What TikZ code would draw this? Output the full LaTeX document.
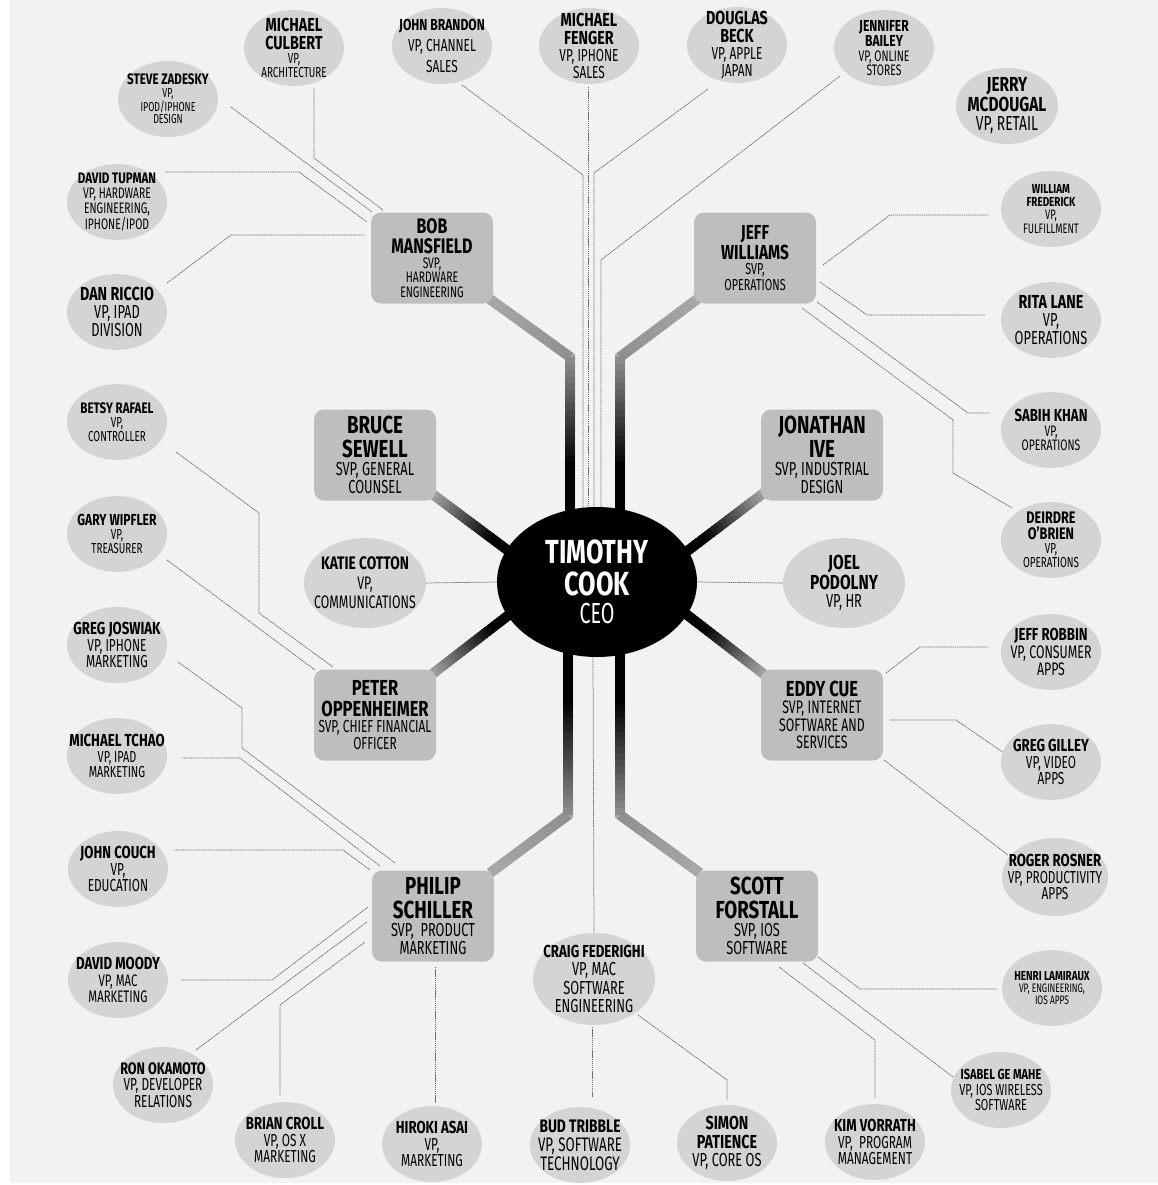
\documentclass[tikz,border=0pt]{standalone}
\usepackage{fontspec}
\setmainfont{Fira Sans}
\newfontfamily\bname{Fira Sans}[FakeStretch=0.76]
\newfontfamily\tname{Fira Sans}[FakeStretch=0.68]
\usetikzlibrary{shapes.geometric,calc}
\definecolor{bgc}{HTML}{F2F2F2}
\definecolor{ellc}{HTML}{D4D4D4}
\definecolor{boxc}{HTML}{BEBEBE}
\definecolor{thkc}{HTML}{A8A8A8}
\definecolor{linec}{HTML}{6E6E6E}
\newcommand\nf[1]{\bname\bfseries\fontsize{\fpeval{#1*1.45}}{\fpeval{#1*1.4}}\selectfont}
\newcommand\tf[1]{\tname\mdseries\fontsize{\fpeval{#1*1.45}}{\fpeval{#1*1.4}}\selectfont}
\newcommand\vtext[1]{\vbox{\hsize=230pt\parindent=0pt\leftskip=0pt plus 1fil\rightskip=0pt plus 1fil\parfillskip=0pt\relax\renewcommand\\[1][0pt]{\par\vskip##1\relax}#1\par}}
\pgfdeclarelayer{bg}\pgfdeclarelayer{lines}\pgfsetlayers{bg,lines,main}
\newcommand\vp[4][]{\node[vpstyle,#1] (#2) at (#3) {}; \node[txt] (#2-t) at (#2) {\vtext{#4}};}
\newcommand\bx[4][]{\node[boxstyle,#1] (#2) at (#3) {}; \node[txt] (#2-t) at (#2) {\vtext{#4}};}
\newcommand\tgrad[4]{%
  \foreach \k in {1,...,24}{%
    \pgfmathsetmacro\pa{(\k-1)/24}%
    \pgfmathsetmacro\pb{min(1,(\k+0.4)/24)}%
    \pgfmathtruncatemacro\cc{min(100,max(0,#3+(#4-#3)*(\k-0.5)/24))}%
    \draw[thk, draw=black!\cc!thkc] ($(#1)!\pa!(#2)$) -- ($(#1)!\pb!(#2)$);%
  }}
\begin{document}
\begin{tikzpicture}[x=1pt,y=-1pt,
  vpstyle/.style={ellipse, fill=ellc, minimum width=100pt, minimum height=76pt, inner sep=0pt},
  boxstyle/.style={rectangle, rounded corners=10pt, fill=boxc, minimum width=122pt, minimum height=91pt, inner sep=0pt},
  txt/.style={inner sep=0pt, text=black},
  vline/.style={draw=linec, line width=0.75pt, dash pattern=on 1.4pt off 0.7pt},
  thk/.style={line width=10pt}]
\useasboundingbox (0,0) rectangle (1158,1185);
\begin{pgfonlayer}{bg}
\fill[white] (0,0) rectangle (1158,1185);
\fill[bgc] (10,0) rectangle (1158,1183);
\end{pgfonlayer}

% CEO
\node[ellipse, fill=black, minimum width=200pt, minimum height=150pt, inner sep=0pt] (ceo) at (597,582) {};
\node[txt, text=white] (ceo-t) at (ceo) {\vtext{\nf{23}TIMOTHY\\COOK\\\tf{20}CEO}};

% SVP boxes
\bx{bob}{432,258}{\nf{14.5}BOB\\MANSFIELD\\\tf{10.5}SVP,\\HARDWARE\\ENGINEERING}
\bx{jeff}{755,258}{\nf{14}JEFF\\WILLIAMS\\\tf{11}SVP,\\OPERATIONS}
\bx{bruce}{375,455}{\nf{17}BRUCE\\SEWELL\\\tf{13}SVP, GENERAL\\COUNSEL}
\bx{ive}{822,455}{\nf{17}JONATHAN\\IVE\\\tf{13}SVP, INDUSTRIAL\\DESIGN}
\bx{peter}{375,715}{\nf{15}PETER\\OPPENHEIMER\\\tf{12}SVP, CHIEF FINANCIAL\\OFFICER}
\bx{eddy}{822,715}{\nf{15}EDDY CUE\\\tf{12.5}SVP, INTERNET\\SOFTWARE AND\\SERVICES}
\bx{philip}{433,916}{\nf{17}PHILIP\\SCHILLER\\\tf{13}SVP,~ PRODUCT\\MARKETING}
\bx{scott}{757,916}{\nf{17}SCOTT\\FORSTALL\\\tf{13}SVP, IOS\\SOFTWARE}

% VP ellipses
\vp{culbert}{294,48}{\nf{13}MICHAEL\\CULBERT\\\tf{10}VP,\\ARCHITECTURE}
\vp{brandon}{442,46}{\nf{11}JOHN BRANDON\\[4pt]\tf{12}VP, CHANNEL\\[4pt]SALES}
\vp{fenger}{589,46}{\nf{13}MICHAEL\\FENGER\\\tf{12}VP, IPHONE\\SALES}
\vp{beck}{737,45}{\nf{13}DOUGLAS\\BECK\\\tf{12}VP, APPLE\\JAPAN}
\vp{bailey}{884,48}{\nf{11}JENNIFER\\BAILEY\\\tf{10.5}VP, ONLINE\\STORES}
\vp[minimum width=102pt]{mcdougal}{1007,106}{\nf{14}JERRY\\MCDOUGAL\\\tf{14}VP, RETAIL}
\vp{zadesky}{168,99}{\nf{10.5}STEVE ZADESKY\\\tf{9}VP,\\IPOD/IPHONE\\DESIGN}
\vp{tupman}{117,202}{\nf{10.5}DAVID TUPMAN\\\tf{10.5}VP, HARDWARE\\ENGINEERING,\\IPHONE/IPOD}
\vp{riccio}{117,312}{\nf{13}DAN RICCIO\\\tf{13}VP, IPAD\\DIVISION}
\vp{frederick}{1051,209}{\nf{9}WILLIAM\\FREDERICK\\\tf{9.5}VP,\\FULFILLMENT}
\vp{rita}{1051,320}{\nf{13}RITA LANE\\\tf{13}VP,\\OPERATIONS}
\vp{betsy}{117,422}{\nf{10.5}BETSY RAFAEL\\\tf{10}VP,\\CONTROLLER}
\vp{gary}{117,534}{\nf{11}GARY WIPFLER\\\tf{10}VP,\\TREASURER}
\vp{joswiak}{117,645}{\nf{12}GREG JOSWIAK\\\tf{12}VP, IPHONE\\MARKETING}
\vp{tchao}{117,756}{\nf{12}MICHAEL TCHAO\\\tf{11}VP, IPAD\\MARKETING}
\vp[minimum width=122pt, minimum height=90pt]{katie}{365,583}{\nf{12.5}KATIE COTTON\\[2pt]\tf{12.5}VP,\\[2pt]COMMUNICATIONS}
\vp[minimum width=122pt, minimum height=90pt]{joel}{844,583}{\nf{14}JOEL\\PODOLNY\\\tf{13}VP, HR}
\vp{sabih}{1051,430}{\nf{12}SABIH KHAN\\\tf{10.5}VP,\\OPERATIONS}
\vp{deirdre}{1051,540}{\nf{11.5}DEIRDRE\\O’BRIEN\\\tf{10}VP,\\OPERATIONS}
\vp{robbin}{1051,652}{\nf{12}JEFF ROBBIN\\\tf{12.5}VP, CONSUMER\\APPS}
\vp{gilley}{1051,762}{\nf{12}GREG GILLEY\\\tf{12}VP, VIDEO\\APPS}
\vp{couch}{118,869}{\nf{12}JOHN COUCH\\\tf{12}VP,\\EDUCATION}
\vp{moody}{118,980}{\nf{12}DAVID MOODY\\\tf{11.5}VP, MAC\\MARKETING}
\vp{okamoto}{163,1085}{\nf{11.5}RON OKAMOTO\\\tf{12}VP, DEVELOPER\\RELATIONS}
\vp{croll}{285,1140}{\nf{12}BRIAN CROLL\\\tf{12}VP, OS X\\MARKETING}
\vp{asai}{432,1144}{\nf{12}HIROKI ASAI\\\tf{12}VP,\\MARKETING}
\vp[minimum width=106pt, minimum height=78pt]{rosner}{1055,877}{\nf{12}ROGER ROSNER\\\tf{12}VP, PRODUCTIVITY\\APPS}
\vp{henri}{1052,988}{\nf{9}HENRI LAMIRAUX\\\tf{8.5}VP, ENGINEERING,\\IOS APPS}
\vp{isabel}{1001,1090}{\nf{10}ISABEL GE MAHE\\\tf{11}VP, IOS WIRELESS\\SOFTWARE}
\vp{kim}{875,1142}{\nf{12}KIM VORRATH\\\tf{12}VP,~ PROGRAM\\MANAGEMENT}
\vp{simon}{727,1143}{\nf{13}SIMON\\PATIENCE\\\tf{13}VP, CORE OS}
\vp[minimum width=122pt, minimum height=92pt]{craig}{594,979}{\nf{12}CRAIG FEDERIGHI\\\tf{13}VP, MAC\\SOFTWARE\\ENGINEERING}
\vp{bud}{580,1145}{\nf{12.5}BUD TRIBBLE\\\tf{13.5}VP, SOFTWARE\\TECHNOLOGY}

\begin{pgfonlayer}{lines}
% thin connectors: Bob Mansfield group
\draw[vline] ($(zadesky)+(63,8)$) -- ($(bob)+(-60,-46)$);
\draw[vline] ($(culbert)+(20,40)$) -- (314,158) -- ($(bob)+(-49,-48)$);
\draw[vline] ($(tupman)+(48,-30)$) -- (299,172) -- ($(bob)+(-65,-36)$);
\draw[vline] ($(riccio)+(50,-29)$) -- (231,235) -- ($(bob)+(-67,-23)$);
% top group to CEO
\draw[vline] ($(brandon)+(20,39)$) -- (583,175) -- ($(ceo)+(-14,-70)$);
\draw[vline] ($(fenger)+(-1,41)$) -- ($(ceo)+(-9,-70)$);
\draw[vline] ($(beck)+(-29,44)$) -- (594,173) -- ($(ceo)+(-3,-70)$);
\draw[vline] ($(bailey)+(-44,28)$) -- (601,260) -- ($(ceo)+(4,-70)$);
% Jeff Williams group
\draw[vline] ($(jeff)+(68,7)$) -- (890,215) -- ($(frederick)+(-63,6)$);
\draw[vline] ($(jeff)+(65,24)$) -- (867,315) -- ($(rita)+(-66,-5)$);
\draw[vline] ($(jeff)+(62,44)$) -- (968,413) -- ($(sabih)+(-61,-17)$);
\draw[vline] ($(jeff)+(47,50)$) -- (953,420) -- (953,473) -- ($(deirdre)+(-39,-32)$);
% Peter Oppenheimer group
\draw[vline] ($(betsy)+(59,30)$) -- (259,513) -- (259,613) -- ($(peter)+(-42,-48)$);
\draw[vline] ($(gary)+(50,26)$) -- ($(peter)+(-60,-45)$);
% direct reports of the CEO
\draw[vline] (katie.east) -- (ceo.west);
\draw[vline] (ceo.east) -- (joel.west);
\draw[vline] ($(ceo.south)+(-4,0)$) -- (craig.north);
% Eddy Cue group
\draw[vline] ($(eddy)+(64,-42)$) -- (920,647) -- ($(robbin)+(-63,-5)$);
\draw[vline] ($(eddy)+(68,5)$) -- (956,720) -- ($(gilley)+(-47,-9)$);
\draw[vline] ($(eddy)+(62,45)$) -- ($(rosner)+(-47,-22)$);
% Scott Forstall group
\draw[vline] ($(scott)+(61,41)$) -- (860,989) -- ($(henri)+(-55,1)$);
\draw[vline] ($(scott)+(46,47)$) -- ($(isabel)+(-48,-13)$);
\draw[vline] ($(scott)+(22,51)$) -- (875,1040) -- ($(kim)+(0,-44)$);
% Craig Federighi group
\draw[vline] ($(craig)+(-2,48)$) -- ($(bud)+(12,-48)$);
\draw[vline] ($(craig)+(44,36)$) -- (727,1080) -- ($(simon)+(0,-43)$);
% Philip Schiller group
\draw[vline] ($(joswiak)+(61,17)$) -- (242,708) -- (242,748) -- ($(philip)+(-38,-53)$);
\draw[vline] ($(tchao)+(65,2)$) -- (240,758) -- ($(philip)+(-53,-50)$);
\draw[vline] ($(couch)+(56,-19)$) -- (343,850) -- ($(philip)+(-63,-46)$);
\draw[vline] ($(moody)+(63,0)$) -- (272,980) -- ($(philip)+(-65,-9)$);
\draw[vline] ($(okamoto)+(33,-35)$) -- ($(philip)+(-66,6)$);
\draw[vline] ($(croll)+(-5,-45)$) -- (280,1005) -- ($(philip)+(-68,26)$);
\draw[vline] ($(philip)+(2,51)$) -- ($(asai)+(3,-41)$);

% thick connectors to the CEO
\coordinate (t1a) at ($(bob)+(55,39)$);   \coordinate (t1b) at (570,357); \coordinate (t1c) at ($(ceo)+(-27,-67)$);
\coordinate (t2a) at ($(jeff)+(-55,39)$); \coordinate (t2b) at (620,357); \coordinate (t2c) at ($(ceo)+(23,-67)$);
\coordinate (t3a) at ($(bruce)+(56,38)$); \coordinate (t3b) at ($(ceo)+(-87,-30)$);
\coordinate (t4a) at ($(peter)+(56,-40)$); \coordinate (t4b) at ($(ceo)+(-87,32)$);
\coordinate (t5a) at ($(ive)+(-57,37)$); \coordinate (t5b) at ($(ceo)+(89,-30)$);
\coordinate (t6a) at ($(eddy)+(-57,-40)$); \coordinate (t6b) at ($(ceo)+(89,32)$);
\coordinate (t7a) at ($(philip)+(57,-43)$); \coordinate (t7b) at (568,815); \coordinate (t7c) at ($(ceo)+(-29,67)$);
\coordinate (t8a) at ($(scott)+(-57,-43)$); \coordinate (t8b) at (620,815); \coordinate (t8c) at ($(ceo)+(23,67)$);
\foreach \i in {1,2,7,8}{\draw[thk, draw=thkc, line join=miter] (t\i a) -- (t\i b) -- (t\i c);}
\tgrad{t1a}{t1b}{0}{15}\tgrad{t1b}{t1c}{15}{140}
\tgrad{t2a}{t2b}{0}{15}\tgrad{t2b}{t2c}{15}{140}
\tgrad{t7a}{t7b}{0}{15}\tgrad{t7b}{t7c}{15}{140}
\tgrad{t8a}{t8b}{0}{15}\tgrad{t8b}{t8c}{15}{140}
\tgrad{t3a}{t3b}{0}{130}
\tgrad{t4a}{t4b}{0}{130}
\tgrad{t5a}{t5b}{0}{130}
\tgrad{t6a}{t6b}{0}{130}
\end{pgfonlayer}
\end{tikzpicture}
\end{document}
